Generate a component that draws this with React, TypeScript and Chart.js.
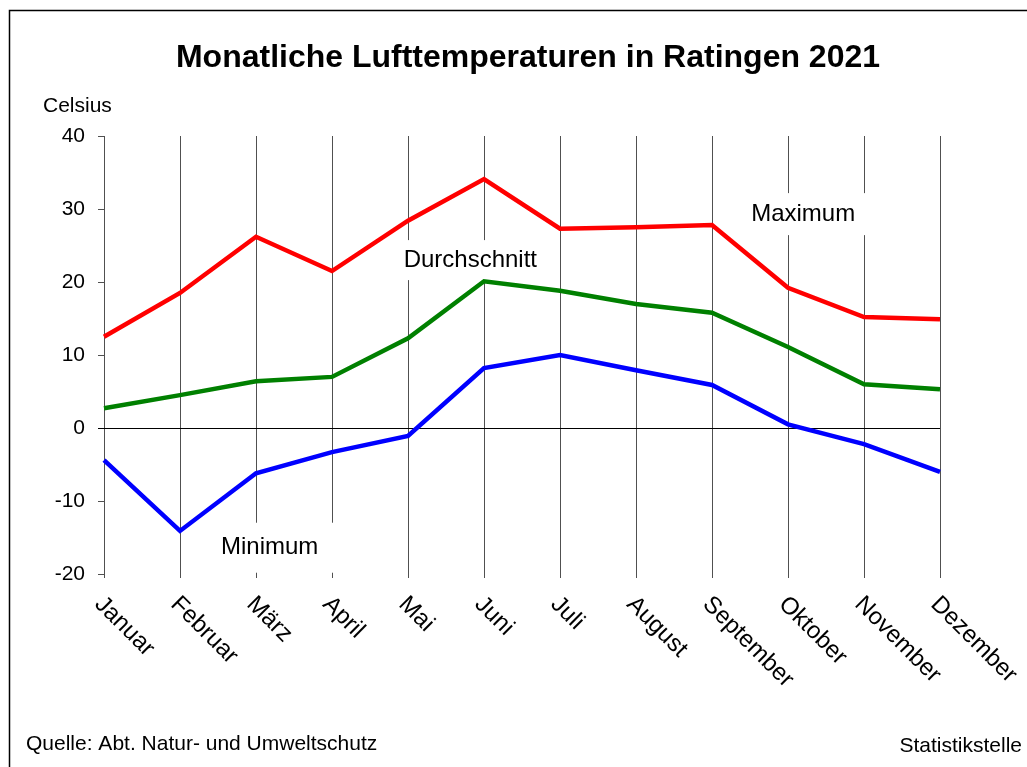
import React, { useEffect, useRef } from "react";
import { Chart, registerables } from "chart.js";

Chart.register(...registerables);

const months = ["Januar", "Februar", "März", "April", "Mai", "Juni", "Juli", "August", "September", "Oktober", "November", "Dezember"];
const maxTemps = [12.5, 18.5, 26.2, 21.5, 28.4, 34.1, 27.3, 27.5, 27.8, 19.2, 15.2, 14.9];
const avgTemps = [2.7, 4.5, 6.4, 7.0, 12.3, 20.1, 18.8, 17.0, 15.8, 11.1, 6.0, 5.3];
const minTemps = [-4.4, -14.1, -6.2, -3.3, -1.1, 8.2, 10.0, 7.9, 5.9, 0.5, -2.2, -6.0];
const yTicks = [-20, -10, 0, 10, 20, 30, 40];

const FONT = "'Liberation Sans', Arial, sans-serif";

// series label boxes: [text, category position, value, box width, box height]
const seriesLabels: [string, number, number, number, number][] = [
  ["Maximum", 9.2, 29.3, 130, 42],
  ["Durchschnitt", 4.82, 23.0, 148, 40],
  ["Minimum", 2.18, -16.4, 140, 50],
];

const decorPlugin = {
  id: "decor",
  beforeDatasetsDraw(chart: any) {
    const ctx = chart.ctx;
    const xs = chart.scales.x;
    const ys = chart.scales.y;
    ctx.save();
    for (const [text, cx, cy, w, h] of seriesLabels) {
      const px = xs.getPixelForValue(cx);
      const py = ys.getPixelForValue(cy);
      ctx.fillStyle = "#ffffff";
      ctx.fillRect(px - w / 2, py - h / 2, w, h);
      ctx.fillStyle = "#000000";
      ctx.font = `24px ${FONT}`;
      ctx.textAlign = "center";
      ctx.textBaseline = "middle";
      ctx.fillText(text, px, py);
    }
    ctx.restore();
  },
  afterDraw(chart: any) {
    const ctx = chart.ctx;
    const xs = chart.scales.x;
    ctx.save();
    // frame
    ctx.strokeStyle = "#000000";
    ctx.lineWidth = 1.5;
    ctx.strokeRect(9.5, 10.5, 1030, 770);
    // title
    ctx.fillStyle = "#000000";
    ctx.font = `bold 32px ${FONT}`;
    ctx.textAlign = "center";
    ctx.textBaseline = "middle";
    ctx.fillText("Monatliche Lufttemperaturen in Ratingen 2021", 528, 58);
    // unit
    ctx.font = `21px ${FONT}`;
    ctx.textAlign = "left";
    ctx.fillText("Celsius", 43, 106);
    // x labels rotated
    ctx.font = `24px ${FONT}`;
    ctx.textBaseline = "top";
    months.forEach((m, i) => {
      const px = xs.getPixelForValue(i);
      ctx.save();
      ctx.translate(px + 3, 592);
      ctx.rotate(Math.PI / 4);
      ctx.textAlign = "left";
      ctx.fillText(m, 0, 0);
      ctx.restore();
    });
    // footer
    ctx.font = `21px ${FONT}`;
    ctx.textBaseline = "middle";
    ctx.textAlign = "left";
    ctx.fillText("Quelle: Abt. Natur- und Umweltschutz", 26, 744);
    ctx.textAlign = "right";
    ctx.fillText("Statistikstelle", 1022, 746);
    ctx.restore();
  },
};

export default function App() {
  const ref = useRef<HTMLCanvasElement | null>(null);
  useEffect(() => {
    if (!ref.current) return;
    const chart = new Chart(ref.current, {
      type: "line",
      data: {
        labels: months,
        datasets: [
          { label: "Maximum", data: maxTemps, borderColor: "#ff0000", borderWidth: 4.5, pointRadius: 0, tension: 0 },
          { label: "Durchschnitt", data: avgTemps, borderColor: "#008000", borderWidth: 4.5, pointRadius: 0, tension: 0 },
          { label: "Minimum", data: minTemps, borderColor: "#0000ff", borderWidth: 4.5, pointRadius: 0, tension: 0 },
        ],
      },
      options: {
        responsive: false,
        animation: false,
        layout: { padding: { top: 136, right: 87, bottom: 0, left: 0 } },
        plugins: { legend: { display: false }, title: { display: false }, tooltip: { enabled: false } },
        scales: {
          x: {
            offset: false,
            grid: { color: "#505050", lineWidth: 1, drawTicks: true, tickLength: 4 },
            border: { display: false },
            ticks: { display: false },
            afterFit: (s: any) => { s.height = 193; },
          },
          y: {
            min: -20,
            max: 40,
            afterBuildTicks: (s: any) => { s.ticks = yTicks.map((v) => ({ value: v })); },
            grid: {
              color: (c: any) => (c.tick && c.tick.value === 0 ? "#000000" : "rgba(0,0,0,0)"),
              tickColor: (c: any) => (c.tick && c.tick.value === 0 ? "#000000" : "#505050"),
              drawTicks: true,
              tickLength: 6,
              lineWidth: 1,
            },
            border: { display: false },
            ticks: { color: "#000000", font: { family: FONT, size: 21 }, padding: 13 },
            afterFit: (s: any) => { s.width = 104; },
          },
        },
      },
      plugins: [decorPlugin],
    });
    return () => chart.destroy();
  }, []);
  return (
    <div style={{ position: "absolute", left: 0, top: 0, width: 1027, height: 767, background: "#fff" }}>
      <canvas ref={ref} width={1027} height={767} />
    </div>
  );
}
